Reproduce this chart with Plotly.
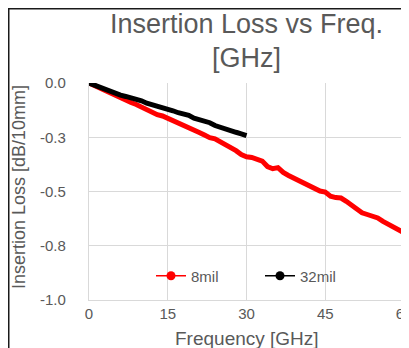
import plotly.graph_objects as go

freq_8mil = list(range(0, 61))
loss_8mil = [0.000, -0.012, -0.023, -0.036, -0.047, -0.058, -0.069, -0.080, -0.090, -0.099,
             -0.111, -0.122, -0.138, -0.146, -0.152, -0.162, -0.174, -0.188, -0.197, -0.207,
             -0.218, -0.228, -0.240, -0.252, -0.257, -0.270, -0.285, -0.298, -0.312, -0.330,
             -0.340, -0.343, -0.352, -0.360, -0.385, -0.395, -0.390, -0.412, -0.426, -0.438,
             -0.450, -0.462, -0.476, -0.488, -0.498, -0.503, -0.522, -0.528, -0.530, -0.545,
             -0.563, -0.580, -0.598, -0.606, -0.612, -0.622, -0.638, -0.652, -0.664, -0.676,
             -0.690]

freq_32mil = list(range(0, 31))
loss_32mil = [0.000, -0.010, -0.020, -0.029, -0.038, -0.046, -0.056, -0.062, -0.068, -0.074,
              -0.082, -0.093, -0.100, -0.105, -0.110, -0.116, -0.128, -0.137, -0.142, -0.149,
              -0.162, -0.170, -0.172, -0.183, -0.196, -0.205, -0.213, -0.220, -0.227, -0.234,
              -0.242]

x_ticks = [0, 15, 30, 45, 60]
y_ticks = [0, -0.25, -0.5, -0.75, -1.0]
y_tick_labels = ["0.0", "-0.3", "-0.5", "-0.8", "-1.0"]

FONT = "Liberation Sans, Arial, sans-serif"
GRAY = "#595959"
OFF = 8  # page body margin
W, H = 409, 348
# plot area in screen pixels: x 89..404, y 83..300
L = 89 - OFF
T = 83 - OFF
R = W - (404 - OFF)
B = H - (300 - OFF)
PW, PH = W - L - R, H - T - B

def px_x(sx):
    return (sx - OFF - L) / PW

def px_y(sy):
    return (H - B - (sy - OFF)) / PH

fig = go.Figure()
fig.add_trace(go.Scatter(x=freq_8mil, y=loss_8mil, mode="lines",
                         line=dict(color="#ff0000", width=5), showlegend=False))
fig.add_trace(go.Scatter(x=freq_32mil, y=loss_32mil, mode="lines",
                         line=dict(color="#000000", width=5), showlegend=False))
# legend entries
fig.add_trace(go.Scatter(x=[None], y=[None], mode="lines+markers", name="8mil",
                         line=dict(color="#ff0000", width=1.5), marker=dict(color="#ff0000", size=9)))
fig.add_trace(go.Scatter(x=[None], y=[None], mode="lines+markers", name="32mil",
                         line=dict(color="#000000", width=1.5), marker=dict(color="#000000", size=9)))

fig.update_layout(
    width=W, height=H,
    margin=dict(l=L, r=R, t=T, b=B, autoexpand=False),
    paper_bgcolor="white", plot_bgcolor="white",
    font=dict(family=FONT, color=GRAY, size=13),
    legend=dict(orientation="h", x=px_x(151), xanchor="left", y=px_y(276), yanchor="middle",
                bgcolor="rgba(0,0,0,0)", font=dict(size=15, color=GRAY), itemwidth=30,
                entrywidth=64, entrywidthmode="pixels"),
    xaxis=dict(range=[0, 60], tickvals=x_ticks, showgrid=True, gridcolor="#d9d9d9", gridwidth=1.2,
               zeroline=False, showline=True, linecolor="#d9d9d9", linewidth=1.2, automargin=False,
               ticks="", tickfont=dict(size=15, color=GRAY)),
    yaxis=dict(range=[-1.0, 0], tickvals=y_ticks, ticktext=y_tick_labels, showgrid=True,
               gridcolor="#d9d9d9", gridwidth=1.2, zeroline=False, showline=True, automargin=False,
               linecolor="#d9d9d9", linewidth=1.2, ticks="", ticklabelstandoff=19,
               tickfont=dict(size=15, color=GRAY)),
    annotations=[
        dict(text="Insertion Loss vs Freq.", xref="paper", yref="paper", x=px_x(246.5), y=px_y(24),
             xanchor="center", yanchor="middle", showarrow=False, font=dict(size=27, color=GRAY)),
        dict(text="[GHz]", xref="paper", yref="paper", x=px_x(246.5), y=px_y(58),
             xanchor="center", yanchor="middle", showarrow=False, font=dict(size=27, color=GRAY)),
        dict(text="Frequency [GHz]", xref="paper", yref="paper", x=px_x(246.5), y=px_y(338),
             xanchor="center", yanchor="middle", showarrow=False, font=dict(size=19, color=GRAY)),
        dict(text="Insertion Loss [dB/10mm]", xref="paper", yref="paper", x=px_x(19), y=px_y(187),
             xanchor="center", yanchor="middle", showarrow=False, textangle=-90,
             font=dict(size=18, color=GRAY)),
    ],
)

# outer chart border (partially cropped in the reference)
fig.add_shape(type="rect", xref="paper", yref="paper",
              x0=px_x(8.5), x1=px_x(408), y0=px_y(370), y1=px_y(8.5),
              line=dict(color="#1a1a1a", width=2), fillcolor="rgba(0,0,0,0)", layer="below")

fig.write_html("out.html")
